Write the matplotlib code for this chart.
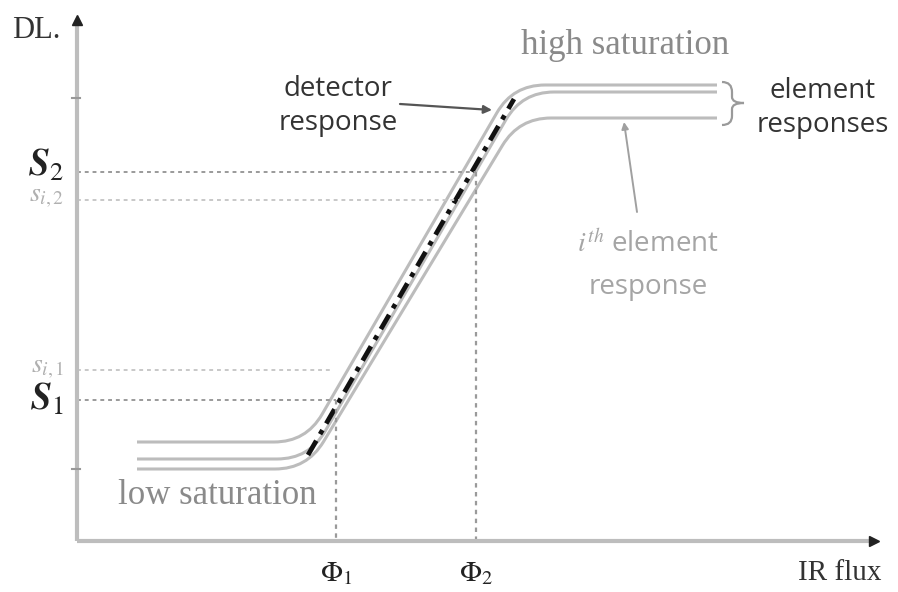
import numpy as np
import matplotlib
matplotlib.use("Agg")
import matplotlib.pyplot as plt
from matplotlib.path import Path
from matplotlib.patches import PathPatch

plt.rcParams['mathtext.fontset'] = 'stix'

# ---------------- data (figure units: flux -> right, DL -> down) ----------------
flux_start = 137
flux_end = 717

# three element responses: low saturation level, high saturation level, knees
elem_low = [442, 459, 469]
elem_high = [85, 92, 118]
elem_knee_low = [306, 309, 307]
elem_knee_high = [513, 522, 519]

# detector response (dash-dot)
det_flux = [308, 514]
det_dl = [455, 99]

S1, S2 = 400, 172
s_i1, s_i2 = 370, 200
phi1, phi2 = 336, 476
s_i1_end, s_i2_end = 330, 460

axis_origin = (77, 541)
axis_top = 14
axis_right = 880
dl_ticks = [98, 469]

# ---------------------------------------------------------------------------------
fig = plt.figure(figsize=(8.98, 5.92), dpi=100)
ax = fig.add_axes([0, 0, 1, 1])
ax.set_xlim(0, 898)
ax.set_ylim(592, 0)
ax.axis("off")

GRAY = "#bcbcbc"
DOT = "#9a9a9a"


def rounded(p0, k1, k2, p3, r=32):
    k1 = np.array(k1, float)
    k2 = np.array(k2, float)
    d = (k2 - k1) / np.linalg.norm(k2 - k1)
    verts = [p0, (k1[0] - r, k1[1]), tuple(k1), tuple(k1 + d * r),
             tuple(k2 - d * r), tuple(k2), (k2[0] + r, k2[1]), p3]
    codes = [Path.MOVETO, Path.LINETO, Path.CURVE3, Path.CURVE3,
             Path.LINETO, Path.CURVE3, Path.CURVE3, Path.LINETO]
    return Path(verts, codes)


for lo, hi, kl, kh in zip(elem_low, elem_high, elem_knee_low, elem_knee_high):
    p = rounded((flux_start, lo), (kl, lo), (kh, hi), (flux_end, hi))
    ax.add_patch(PathPatch(p, fill=False, edgecolor=GRAY, lw=2.2, capstyle="butt"))

# detector response
ax.plot(det_flux, det_dl, color="#111111", lw=3.4,
        linestyle=(0, (3.5, 1.6, 1.0, 1.6)), solid_capstyle="butt")

# dotted guide lines
ax.plot([axis_origin[0], phi2], [S2, S2], color=DOT, lw=1.4, ls=(0, (2, 2)))
ax.plot([axis_origin[0], s_i2_end], [s_i2, s_i2], color="#c8c8c8", lw=1.4, ls=(0, (2, 2)))
ax.plot([axis_origin[0], s_i1_end], [s_i1, s_i1], color="#c8c8c8", lw=1.4, ls=(0, (2, 2)))
ax.plot([axis_origin[0], phi1], [S1, S1], color=DOT, lw=1.4, ls=(0, (2, 2)))
ax.plot([phi1, phi1], [S1, axis_origin[1]], color=DOT, lw=1.6, ls=(0, (2, 2)))
ax.plot([phi2, phi2], [S2, axis_origin[1]], color=DOT, lw=1.6, ls=(0, (2, 2)))

# axes
ax.plot([axis_origin[0], axis_origin[0]], [axis_origin[1], axis_top + 6], color="#bdbdbd", lw=3,
        solid_capstyle="butt")
ax.plot([axis_origin[0], axis_right - 6], [axis_origin[1], axis_origin[1]], color="#bdbdbd", lw=3,
        solid_capstyle="butt")
ax.plot([axis_origin[0]], [axis_top + 6], marker="^", color="#222222", ms=7)
ax.plot([axis_right - 6], [axis_origin[1]], marker=">", color="#222222", ms=7)
for t in dl_ticks:
    ax.plot([axis_origin[0] - 5, axis_origin[0] + 3], [t, t], color="#999999", lw=1.5)

# brace
brace = Path([(722, 82), (732, 82), (732, 92), (732, 97), (732, 103), (744, 103),
              (732, 103), (732, 109), (732, 116), (732, 125), (722, 125)],
             [Path.MOVETO, Path.CURVE3, Path.CURVE3, Path.LINETO, Path.CURVE3, Path.CURVE3,
              Path.CURVE3, Path.CURVE3, Path.LINETO, Path.CURVE3, Path.CURVE3])
ax.add_patch(PathPatch(brace, fill=False, edgecolor="#9a9a9a", lw=1.6))

# labels
serif = "Liberation Serif"
sans = "Open Sans"
ax.text(12, 31, "DL.", fontsize=22, family=serif, color="#333333", va="center", ha="left")
ax.text(64, 166, r"$\mathbfit{S}_{2}$", fontsize=27, color="#222222", ha="right", va="center")
ax.text(64, 196, r"$s_{i,2}$", fontsize=20, color="#b0b0b0", ha="right", va="center")
ax.text(64, 367, r"$s_{i,1}$", fontsize=20, color="#b0b0b0", ha="right", va="center")
ax.text(64, 400, r"$\mathbfit{S}_{1}$", fontsize=27, color="#222222", ha="right", va="center")
ax.text(phi1, 573, r"$\Phi_1$", fontsize=21, color="#222222", ha="center", va="center")
ax.text(phi2, 573, r"$\Phi_2$", fontsize=21, color="#222222", ha="center", va="center")
ax.text(882, 573, "IR flux", fontsize=21, family=serif, color="#333333", ha="right", va="center")
ax.text(217, 495, "low saturation", fontsize=25, family=serif, color="#8a8a8a",
        ha="center", va="center")
ax.text(625, 45, "high saturation", fontsize=25, family=serif, color="#8a8a8a",
        ha="center", va="center")
ax.text(338, 106, "detector\nresponse", fontsize=20, family=sans, color="#333333",
        ha="center", va="center", linespacing=1.3)
ax.text(823, 108, "element\nresponses", fontsize=20, family=sans, color="#333333",
        ha="center", va="center", linespacing=1.3)
ax.text(648, 266, r"$i^{th}$" + " element\nresponse", fontsize=20, family=sans, color="#a5a5a5",
        ha="center", va="center", linespacing=1.65)

# pointers
ax.annotate("", xy=(492, 110), xytext=(400, 104),
            arrowprops=dict(arrowstyle="-|>", color="#555555", lw=1.6,
                            mutation_scale=12, shrinkA=0, shrinkB=0))
ax.annotate("", xy=(624, 122), xytext=(637, 212),
            arrowprops=dict(arrowstyle="-|>", color="#a0a0a0", lw=1.4,
                            mutation_scale=10, shrinkA=0, shrinkB=0))

fig.savefig("out.png", dpi=100, facecolor="white")
